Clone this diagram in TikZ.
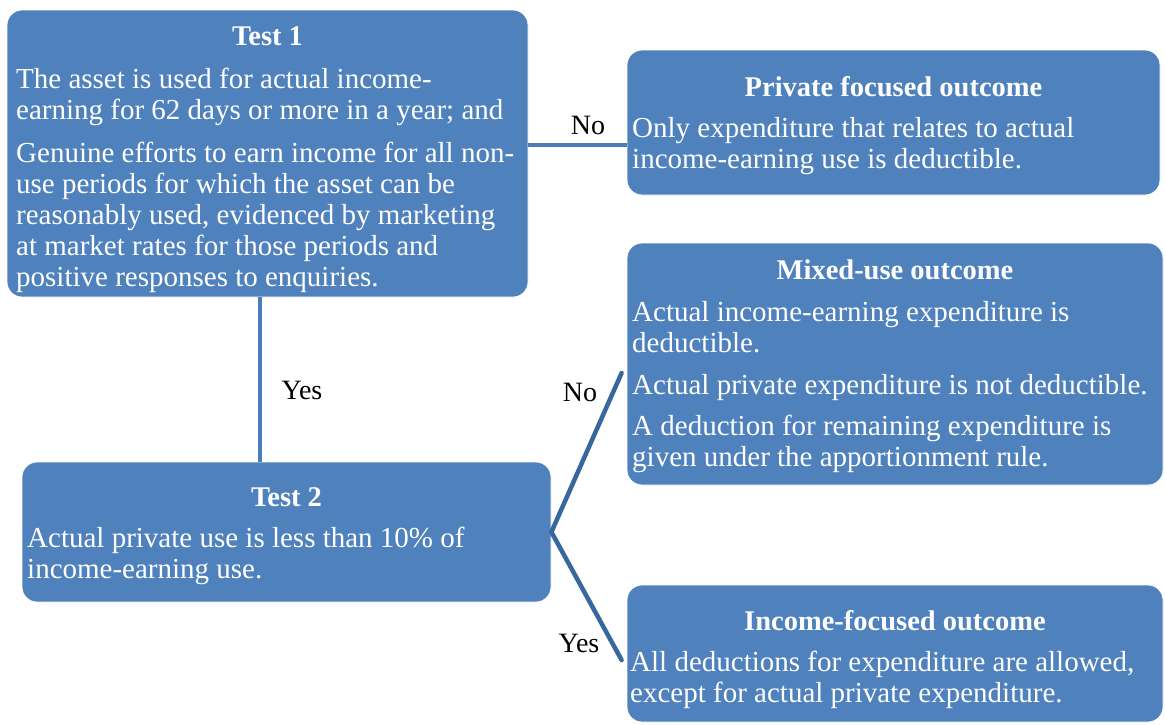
\documentclass[tikz,border=0pt]{standalone}
\usepackage{fontspec}
\setmainfont{Liberation Serif}
\definecolor{boxblue}{HTML}{4F81BD}
\definecolor{linkblue}{HTML}{4A7DBA}
\definecolor{branchblue}{HTML}{36679D}
\begin{document}
\begin{tikzpicture}[x=1pt,y=-1pt,
  box/.style={fill=boxblue, draw=white, line width=0.8pt, rounded corners=15pt, inner sep=0pt},
  title/.style={text=white, inner sep=0pt, anchor=base, font=\fontsize{28.5}{31}\selectfont\bfseries},
  body/.style={text=white, inner sep=0pt, anchor=base west, font=\fontsize{29}{31}\selectfont},
  link/.style={draw=linkblue, line width=4pt},
  branch/.style={draw=branchblue, line width=4.5pt, line cap=round},
  lbl/.style={text=black, inner sep=0pt, font=\fontsize{28}{31}\selectfont}]
\useasboundingbox[fill=white] (0,0) rectangle (1165,724);

% boxes
\node[box, minimum width=521pt, minimum height=287pt] (t1) at (267.5,153.5) {};
\node[box, minimum width=533pt, minimum height=145pt] (pf) at (893.5,122.5) {};
\node[box, minimum width=536pt, minimum height=242pt] (mx) at (895,364) {};
\node[box, minimum width=536pt, minimum height=137pt] (inc) at (895,653.5) {};
\node[box, minimum width=529pt, minimum height=140pt] (t2) at (286.5,532) {};

% connectors
\coordinate (t1out) at ([yshift=8.5pt]t1.east);
\draw[link] (t1out) -- (t1out -| pf.west);
\coordinate (t1down) at ([xshift=-7.5pt]t1.south);
\draw[link] (t1down) -- (t1down |- t2.north);
\coordinate (mxin) at ([xshift=-5pt,yshift=-9pt]mx.west);
\coordinate (incin) at ([xshift=-5pt,yshift=-6.5pt]inc.west);
\draw[branch] (mxin) -- (t2.east) -- (incin);

% branch labels
\node[lbl] (no1) at (588,125) {No};
\node[lbl] (yes1) at (302,390) {Yes};
\node[lbl] (no2) at (580,392) {No};
\node[lbl] (yes2) at (579,643) {Yes};

% Test 1
\node[title] (t1title) at (267.5,45) {Test 1};
\node[body] (t1a) at (16,88) {\begin{tabular}[t]{@{}l@{}}The asset is used for actual income-\\
earning for 62 days or more in a year;\ and\\[12pt]
Genuine efforts to earn income for all non-\\
use periods for which the asset can be\\
reasonably used, evidenced by marketing\\
at market rates for those periods and\\
positive responses to enquiries.\end{tabular}};

% Private focused outcome
\node[title] (pftitle) at (893.5,96) {Private focused outcome};
\node[body] (pfa) at (632,137) {\begin{tabular}[t]{@{}l@{}}Only expenditure that relates to actual\\
income-earning use is deductible.\end{tabular}};

% Mixed-use outcome
\node[title] (mxtitle) at (895,279) {Mixed-use outcome};
\node[body] (mxa) at (632,321) {\begin{tabular}[t]{@{}l@{}}Actual income-earning expenditure is\\
deductible.\\[11pt]
Actual private expenditure is not deductible.\\[10pt]
A deduction for remaining expenditure is\\
given under the apportionment rule.\end{tabular}};

% Income-focused outcome
\node[title] (inctitle) at (895,630) {Income-focused outcome};
\node[body] (inca) at (630,671) {\begin{tabular}[t]{@{}l@{}}All deductions for expenditure are allowed,\\
except for actual private expenditure.\end{tabular}};

% Test 2
\node[title] (t2title) at (286.5,506) {Test 2};
\node[body] (t2a) at (27,547) {\begin{tabular}[t]{@{}l@{}}Actual private use is less than 10\% of\\
income-earning use.\end{tabular}};
\end{tikzpicture}
\end{document}
